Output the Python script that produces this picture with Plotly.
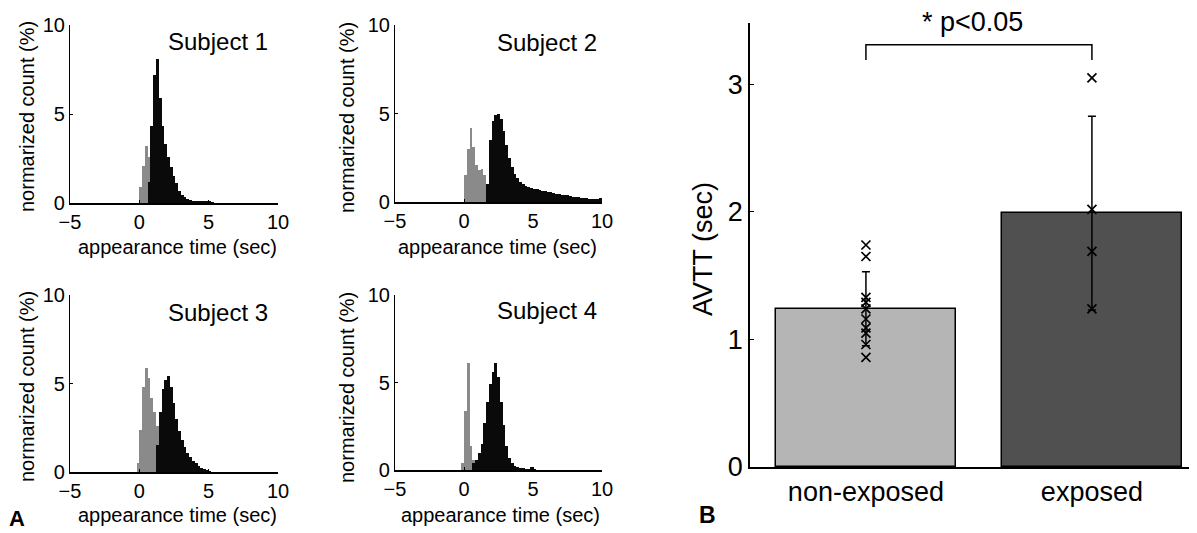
import plotly.graph_objects as go

# ---------------- data ----------------
BIN_W = 0.2

s1_early_t = [0.1, 0.3, 0.5, 0.7, 0.9]
s1_early_pct = [0.9, 2.1, 3.2, 2.6, 1.6]
s1_late_t = [0.7, 0.9, 1.1, 1.3, 1.5, 1.7, 1.9, 2.1, 2.3, 2.5, 2.7, 2.9, 3.1, 3.3,
             3.5, 3.7, 3.9, 4.1, 4.3, 4.5, 4.7, 4.9, 5.1, 5.3]
s1_late_pct = [1.2, 4.3, 7.2, 8.1, 5.9, 4.3, 3.3, 2.6, 2.0, 1.5, 1.1, 0.7, 0.45, 0.32,
               0.22, 0.16, 0.12, 0.1, 0.08, 0.07, 0.06, 0.1, 0.06, 0.05]

s2_early_t = [0.1, 0.3, 0.5, 0.7, 0.9, 1.1, 1.3, 1.5, 1.7]
s2_early_pct = [1.5, 3.0, 4.2, 3.1, 2.1, 1.8, 1.85, 1.5, 1.0]
s2_late_t = [1.7, 1.9, 2.1, 2.3, 2.5, 2.7, 2.9, 3.1, 3.3, 3.5, 3.7, 3.9, 4.1, 4.3,
             4.5, 4.7, 4.9, 5.1, 5.3, 5.5, 5.7, 5.9, 6.1, 6.3, 6.5, 6.7, 6.9, 7.1,
             7.3, 7.5, 7.7, 7.9, 8.1, 8.3, 8.5, 8.7, 8.9, 9.1, 9.3, 9.5, 9.7, 9.9]
s2_late_pct = [1.0, 3.5, 4.6, 4.9, 5.0, 4.7, 4.0, 3.2, 2.5, 2.0, 1.6, 1.35, 1.15, 1.0,
               0.92, 0.85, 0.8, 0.75, 0.72, 0.68, 0.64, 0.6, 0.57, 0.54, 0.5, 0.48, 0.45, 0.42,
               0.4, 0.37, 0.34, 0.31, 0.29, 0.27, 0.25, 0.23, 0.21, 0.19, 0.17, 0.16, 0.15, 0.2]

s3_early_t = [-0.1, 0.1, 0.3, 0.5, 0.7, 0.9, 1.1, 1.3]
s3_early_pct = [0.5, 2.4, 4.8, 5.9, 5.3, 4.2, 3.4, 2.6]
s3_late_t = [1.3, 1.5, 1.7, 1.9, 2.1, 2.3, 2.5, 2.7, 2.9, 3.1, 3.3, 3.5, 3.7, 3.9,
             4.1, 4.3, 4.5, 4.7, 4.9, 5.1]
s3_late_pct = [1.5, 3.4, 4.7, 5.2, 5.4, 4.8, 3.9, 3.0, 2.3, 1.8, 1.4, 1.05, 0.85, 0.65,
               0.5, 0.35, 0.25, 0.15, 0.1, 0.05]

s4_early_t = [-0.1, 0.1, 0.3, 0.5, 0.7, 0.9]
s4_early_pct = [0.4, 3.4, 6.1, 1.4, 0.6, 0.3]
s4_late_t = [0.7, 0.9, 1.1, 1.3, 1.5, 1.7, 1.9, 2.1, 2.3, 2.5, 2.7, 2.9, 3.1, 3.3,
             3.5, 3.7, 3.9, 4.1, 4.3, 4.5, 4.7, 4.9, 5.1]
s4_late_pct = [0.4, 0.6, 1.0, 1.5, 2.7, 3.9, 4.9, 5.6, 6.1, 5.3, 3.9, 2.6, 1.4, 0.7,
               0.4, 0.25, 0.15, 0.1, 0.08, 0.05, 0.05, 0.2, 0.05]

subject_titles = ["Subject 1", "Subject 2", "Subject 3", "Subject 4"]
hist_xticks = [-5, 0, 5, 10]
hist_yticks = [0, 5, 10]
hist_xlabel = "appearance time (sec)"
hist_ylabel = "normarized count (%)"

groups = ["non-exposed", "exposed"]
avtt_mean = [1.24, 1.99]
avtt_sd = [0.29, 0.76]
non_exposed_pts = [1.74, 1.65, 1.33, 1.29, 1.24, 1.16, 1.09, 1.05, 0.96, 0.86]
exposed_pts = [3.05, 2.02, 1.69, 1.24]
avtt_yticks = [0, 1, 2, 3]
avtt_ylabel = "AVTT (sec)"
sig_text = "* p<0.05"

# ---------------- style ----------------
W, H = 1197, 533
OFF = 8  # page body margin in the browser
FONT = "Liberation Sans, Arial, sans-serif"
GRAY = "#8a8a8a"
BLACK = "#0a0a0a"
LIGHT = "#b5b5b5"
DARK = "#505050"


def px_dom(a, b, size, flip=False):
    a -= OFF
    b -= OFF
    if flip:
        return [1 - b / size, 1 - a / size]
    return [a / size, b / size]


def px_x(a):
    return (a - OFF) / W


def px_y(a):
    return 1 - (a - OFF) / H


def label(x, y, text, size, angle=0):
    fig.add_annotation(x=px_x(x), y=px_y(y), xref="paper", yref="paper", text=text,
                       textangle=angle, xanchor="center", yanchor="middle", showarrow=False,
                       font=dict(family=FONT, size=size, color="black"))


fig = go.Figure()

subjects = [
    (s1_early_t, s1_early_pct, s1_late_t, s1_late_pct),
    (s2_early_t, s2_early_pct, s2_late_t, s2_late_pct),
    (s3_early_t, s3_early_pct, s3_late_t, s3_late_pct),
    (s4_early_t, s4_early_pct, s4_late_t, s4_late_pct),
]
# pixel boxes: (x0, x1, ytop, ybottom)
boxes = [(70, 278, 25, 203), (395, 602, 25, 202), (70, 278, 295, 472), (395, 602, 295, 470)]
title_pos = [(5.7, 9.05), (6.0, 9.0), (5.7, 9.0), (6.0, 9.1)]
xlabel_pos = [(177, 247), (497, 247), (177, 515), (500, 515)]
ylabel_pos = [(27, 117), (347, 118), (27, 387), (347, 388)]

layout_axes = {}
for i, (et, ep, lt, lp) in enumerate(subjects):
    n = i + 1
    xa = "x" if n == 1 else f"x{n}"
    ya = "y" if n == 1 else f"y{n}"
    fig.add_trace(go.Bar(x=et, y=ep, width=BIN_W, marker=dict(color=GRAY, line=dict(width=0)),
                         xaxis=xa, yaxis=ya, showlegend=False))
    fig.add_trace(go.Bar(x=lt, y=lp, width=BIN_W, marker=dict(color=BLACK, line=dict(width=0)),
                         xaxis=xa, yaxis=ya, showlegend=False))
    x0, x1, yt, yb = boxes[i]
    layout_axes[f"xaxis{'' if n == 1 else n}"] = dict(
        domain=px_dom(x0, x1, W), range=[-5, 10], anchor=ya, automargin=False,
        tickvals=hist_xticks, ticks="inside", ticklen=3, tickcolor="black",
        showline=True, linecolor="black", linewidth=1.5, showgrid=False, zeroline=False,
        tickfont=dict(family=FONT, size=20, color="black"),
    )
    layout_axes[f"yaxis{'' if n == 1 else n}"] = dict(
        domain=px_dom(yt, yb, H, flip=True), range=[0, 10], anchor=xa, automargin=False,
        tickvals=hist_yticks, ticks="inside", ticklen=3, tickcolor="black",
        showline=True, linecolor="black", linewidth=1.2, showgrid=False, zeroline=False,
        tickfont=dict(family=FONT, size=20, color="black"),
    )
    fig.add_annotation(x=title_pos[i][0], y=title_pos[i][1], xref=xa, yref=ya,
                       text=subject_titles[i], showarrow=False,
                       xanchor="center", yanchor="middle",
                       font=dict(family=FONT, size=24, color="black"))
    label(xlabel_pos[i][0], xlabel_pos[i][1], hist_xlabel, 20)
    label(ylabel_pos[i][0], ylabel_pos[i][1], hist_ylabel, 20, angle=-90)

# ---------------- panel B ----------------
fig.add_trace(go.Bar(
    x=groups, y=avtt_mean, width=0.8,
    marker=dict(color=[LIGHT, DARK], line=dict(color="black", width=1.5)),
    error_y=dict(type="data", array=avtt_sd, visible=True, color="black", thickness=1.5, width=4),
    xaxis="x5", yaxis="y5", showlegend=False,
))
fig.add_trace(go.Scatter(
    x=[groups[0]] * len(non_exposed_pts) + [groups[1]] * len(exposed_pts),
    y=non_exposed_pts + exposed_pts, mode="markers",
    marker=dict(symbol="x-thin", size=9, line=dict(width=1.7, color="black"), color="black"),
    xaxis="x5", yaxis="y5", showlegend=False,
))

layout_axes["xaxis5"] = dict(
    domain=px_dom(750, 1197, W), range=[-0.513, 1.465], anchor="y5", automargin=False,
    type="category", categoryorder="array", categoryarray=groups,
    showline=True, linecolor="black", linewidth=2, ticks="", showgrid=False, zeroline=False,
    tickfont=dict(family=FONT, size=27, color="black"),
)
layout_axes["yaxis5"] = dict(
    domain=px_dom(23, 467, H, flip=True), range=[0, 3.48], anchor="x5", automargin=False,
    tickvals=avtt_yticks, ticks="inside", ticklen=4, tickcolor="black",
    showline=True, linecolor="black", linewidth=1.5, showgrid=False, zeroline=False,
    tickfont=dict(family=FONT, size=27, color="black"),
)
label(703, 249, avtt_ylabel, 27, angle=-90)

# significance bracket
fig.add_shape(type="path", path="M 0,3.19 L 0,3.31 L 1,3.31 L 1,3.19",
              xref="x5", yref="y5", line=dict(color="black", width=1.5))
label(972, 22, sig_text, 27)

# panel letters
label(17, 518, "<b>A</b>", 22)
label(707, 515, "<b>B</b>", 23)

fig.update_layout(
    width=W, height=H, margin=dict(l=0, r=0, t=0, b=0, autoexpand=False),
    paper_bgcolor="white", plot_bgcolor="rgba(0,0,0,0)",
    barmode="overlay", bargap=0,
    font=dict(family=FONT, color="black"),
    **layout_axes,
)

fig.write_html("out.html")
